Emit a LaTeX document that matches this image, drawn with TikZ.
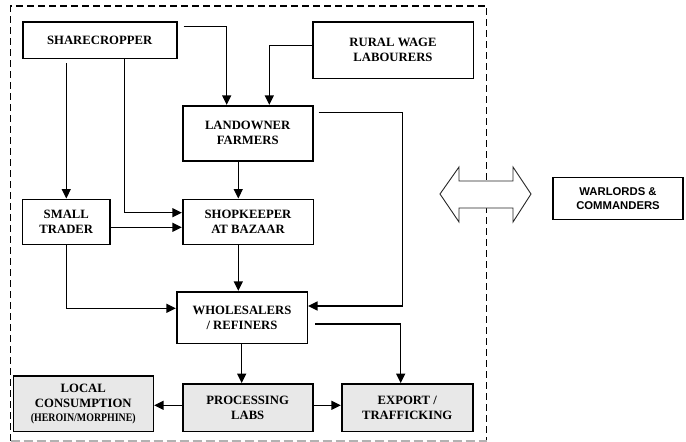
\documentclass[tikz,border=0pt]{standalone}
\usepackage{fontspec}
\setmainfont{Liberation Serif}
\newfontfamily\labelsans{Liberation Sans}
\usetikzlibrary{arrows.meta,calc}

\tikzset{
  box/.style={draw=black, line width=1.6pt, fill=white, inner sep=0pt,
    align=center, font=\fontsize{12.7}{15}\selectfont\bfseries},
  shaded/.style={box, fill=black!9},
  arr/.style={line width=1.3pt, -{Triangle[length=9.5pt,width=9pt]}},
}

\begin{document}
\begin{tikzpicture}[x=1pt,y=-1pt]
\useasboundingbox (0,0) rectangle (686,442);

% dashed frame around the local economy
\draw[black, line width=1.2pt, dash pattern=on 7pt off 4pt]
  (10.5,440.5) -- (10.5,6) -- (486.7,6) -- (486.7,440.5);
\draw[black!30, line width=1.2pt, dash pattern=on 9pt off 4pt]
  (10.5,441) -- (486.7,441);

% actors
\node[box, minimum width=154pt, minimum height=36.6pt] (share) at (99.7,40) {SHARECROPPER};
\node[box, minimum width=160.6pt, minimum height=56.6pt] (rural) at (393,50) {RURAL WAGE\\LABOURERS};
\node[box, minimum width=130pt, minimum height=55pt] (land) at (247.7,133.2) {LANDOWNER\\FARMERS};
\node[box, minimum width=87.3pt, minimum height=45pt] (trader) at (66.3,221.8) {SMALL\\TRADER};
\node[box, minimum width=130.6pt, minimum height=45pt] (shop) at (248,221.8) {SHOPKEEPER\\AT BAZAAR};
\node[box, minimum width=130.6pt, minimum height=51.6pt] (whole) at (242,317.5) {WHOLESALERS\\/ REFINERS};
\node[shaded, minimum width=140pt, minimum height=55.7pt] (local) at (83.3,403.8)
  {LOCAL\\CONSUMPTION\\[-1.5pt]\scalebox{0.86}[1]{\fontsize{11.5}{13}\selectfont (HEROIN/MORPHINE)}};
\node[shaded, minimum width=130pt, minimum height=47.7pt] (proc) at (247.7,407.8) {PROCESSING\\LABS};
\node[shaded, minimum width=131pt, minimum height=47.7pt] (export) at (407.2,407.8) {EXPORT /\\TRAFFICKING};

\node[draw=black, line width=1.4pt, minimum width=130.3pt, minimum height=41.6pt, inner sep=0pt,
  align=center, font=\labelsans\fontsize{11.3}{14}\selectfont\bfseries] (war) at (618,198.5)
  {WARLORDS \&\\COMMANDERS};

% two-way link between the frame and the warlords
\draw[black!85, line width=0.9pt, fill=white]
  (440,194) -- (459,167) -- (459,181) -- (513,181) -- (513,167) -- (531,194)
  -- (513,222) -- (513,208) -- (459,208) -- (459,222) -- cycle;

% bend points
\coordinate (k1) at (402.3,306);
\coordinate (k2) at (124.7,212.7);
\coordinate (k3) at (0,227.3);
\coordinate (k4) at (238.3,0);
\coordinate (k5) at (0,308.3);
\coordinate (k6) at (241.7,0);
\coordinate (k7) at (0,405.3);
\coordinate (k8) at (400.7,324);

% flows
\draw[arr] ([xshift=6pt,yshift=-5.7pt]share.north east) -| ([xshift=-21pt]land.north);
\draw[arr] ([yshift=-24.3pt]rural.north west) -| ([xshift=21.6pt]land.north);
\draw[arr] ([xshift=5pt,yshift=-7.6pt]land.north east) -| (k1) -- (whole.east |- k1);
\draw[arr] ([yshift=-4pt]share.south -| trader.north) -- (trader.north);
\draw[arr] (share.south -| k2) -- (k2) -- (shop.west |- k2);
\draw[arr] (trader.east |- k3) -- (shop.west |- k3);
\draw[arr] (land.south -| k4) -- (shop.north -| k4);
\draw[arr] (shop.south -| k4) -- (whole.north -| k4);
\draw[arr] (trader.south) |- (whole.west |- k5);
\draw[arr] (whole.south -| k6) -- (proc.north -| k6);
\draw[arr] ([xshift=7pt]whole.east |- k8) -| (export.north -| k8);
\draw[arr] (proc.west |- k7) -- (local.east |- k7);
\draw[arr] (proc.east |- k7) -- (export.west |- k7);
\end{tikzpicture}
\end{document}
